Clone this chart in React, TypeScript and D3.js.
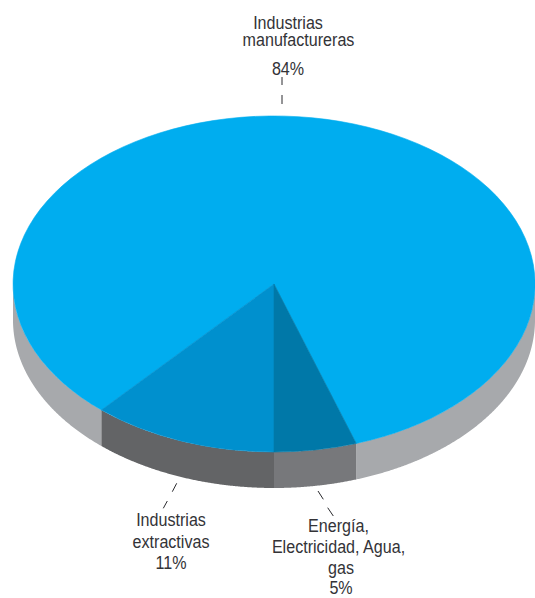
import React from "react";
import * as d3 from "d3";

// Slice order runs clockwise from the right edge of the Energía wedge
const categories = ["Energía, Electricidad, Agua, gas", "Industrias extractivas", "Industrias manufactureras"];
const values = [5.1, 11.5, 83.4];
const topColors = ["#0078a8", "#0090ce", "#00adef"];
const sideColors = ["#77787b", "#636466", "#a7a9ac"];

const W = 535, H = 598;
const cx = 274, cy = 284, rx = 261, ry = 168, depth = 36;

const labels: [string, number, number][] = [
  ["Industrias", 288, 28.5],
  ["manufactureras", 298.5, 46],
  ["84%", 288, 75],
  ["Industrias", 171, 526],
  ["extractivas", 171, 548],
  ["11%", 171, 569],
  ["Energía,", 338.5, 532],
  ["Electricidad, Agua,", 338.5, 553],
  ["gas", 341, 574],
  ["5%", 341, 594],
];
const leaders: [number, number, number, number][] = [
  [282, 77, 282, 85],
  [282, 95, 282, 104],
  [176.7, 483.3, 172.3, 491.7],
  [167.3, 501, 163.3, 508.3],
  [318, 491, 323.3, 499.3],
  [327.7, 507.7, 333.3, 516],
];

export default function App() {
  const start = Math.PI - (values[0] / 100) * 2 * Math.PI;
  const slices = d3.pie<number>().sort(null).startAngle(start).endAngle(start + 2 * Math.PI)(values);
  const arc = d3.arc<d3.PieArcDatum<number>>().innerRadius(0).outerRadius(1);
  const side = d3
    .area<number>()
    .x((a) => cx + rx * Math.sin(a))
    .y0((a) => cy - ry * Math.cos(a))
    .y1((a) => cy - ry * Math.cos(a) + depth);
  const sweep = (a0: number, a1: number) => d3.range(a0, a1, 0.004).concat(a1);

  return (
    <svg width={W} height={H} style={{ position: "absolute", left: 0, top: 0 }}>
      {/* Manufacturing rim is visible on both sides of the two darker pieces */}
      <path d={side(sweep(Math.PI / 2, start)) ?? ""} fill={sideColors[2]} />
      <path d={side(sweep(slices[1].endAngle, (3 * Math.PI) / 2)) ?? ""} fill={sideColors[2]} />
      <path d={side(sweep(slices[0].startAngle, slices[0].endAngle)) ?? ""} fill={sideColors[0]} />
      <path d={side(sweep(slices[1].startAngle, slices[1].endAngle)) ?? ""} fill={sideColors[1]} />
      <g transform={`translate(${cx},${cy}) scale(${rx},${ry})`}>
        {[2, 1, 0].map((i) => (
          <path
            key={categories[i]}
            d={arc(slices[i]) ?? ""}
            fill={topColors[i]}
            stroke={topColors[i]}
            strokeWidth={0.6}
            vectorEffect="non-scaling-stroke"
          />
        ))}
      </g>
      {leaders.map((l, i) => (
        <line key={i} x1={l[0]} y1={l[1]} x2={l[2]} y2={l[3]} stroke="#2a2a2e" strokeWidth={1} />
      ))}
      <g fontFamily="'Liberation Sans','Arial',sans-serif" fontSize={18.5} fill="#333337" textAnchor="middle">
        {labels.map(([t, x, y], i) => (
          <text key={i} transform={`translate(${x},${y}) scale(0.87,1)`}>
            {t}
          </text>
        ))}
      </g>
    </svg>
  );
}
